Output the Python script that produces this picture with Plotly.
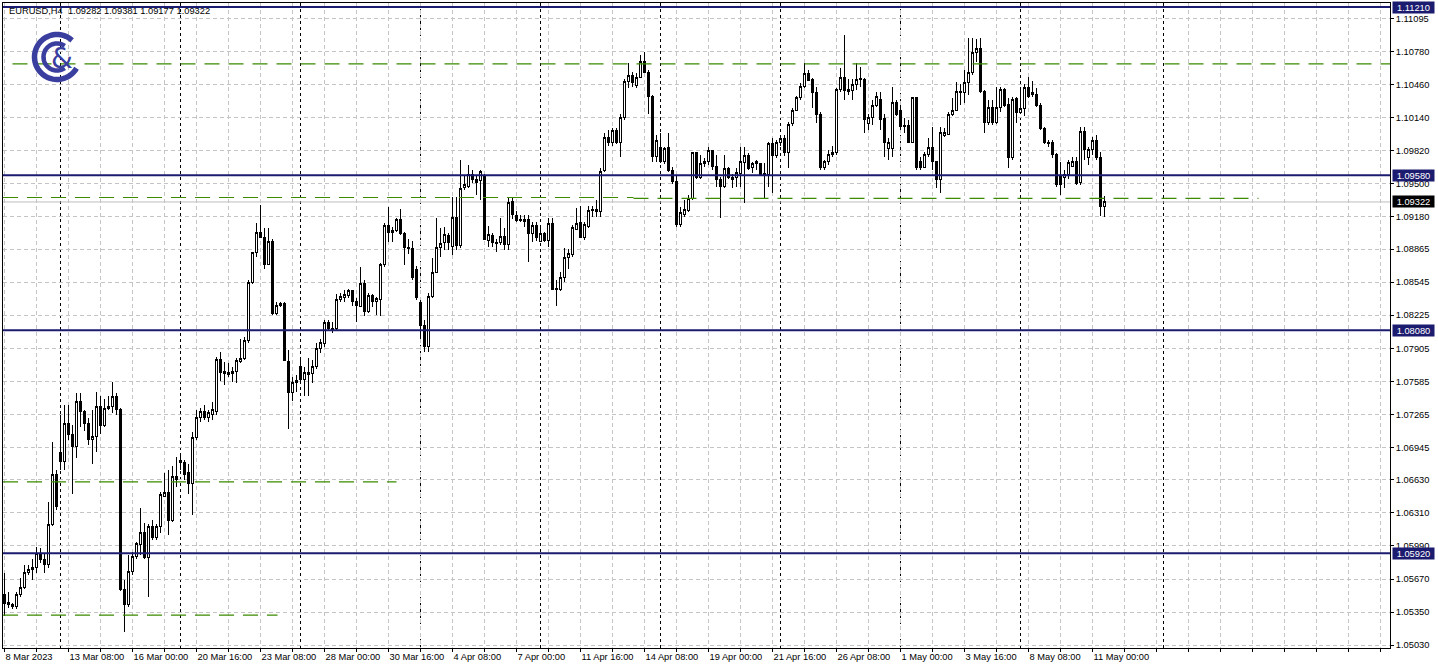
import math
import plotly.graph_objects as go

# ---------------- data (EURUSD, H4) ----------------
bar_index = list(range(276))

opens = [1.0552,1.0544,1.0542,1.0540,1.0552,1.0559,1.0573,1.0576,1.0578,1.0592,
1.0586,1.0581,1.0620,1.0668,1.0690,1.0681,1.0718,1.0707,1.0695,1.0739,
1.0729,1.0718,1.0702,1.0705,1.0734,1.0716,1.0732,1.0734,1.0744,1.0731,
1.0557,1.0542,1.0574,1.0589,1.0600,1.0612,1.0588,1.0618,1.0607,1.0618,
1.0647,1.0651,1.0624,1.0666,1.0682,1.0680,1.0670,1.0660,1.0704,1.0723,
1.0729,1.0723,1.0726,1.0729,1.0780,1.0766,1.0767,1.0766,1.0768,1.0778,
1.0781,1.0798,1.0854,1.0883,1.0903,1.0898,1.0872,1.0894,1.0824,1.0832,
1.0834,1.0778,1.0748,1.0757,1.0773,1.0760,1.0767,1.0766,1.0773,1.0790,
1.0795,1.0815,1.0810,1.0810,1.0838,1.0840,1.0842,1.0846,1.0836,1.0831,
1.0853,1.0826,1.0842,1.0836,1.0838,1.0872,1.0909,1.0903,1.0905,1.0915,
1.0902,1.0888,1.0887,1.0867,1.0835,1.0813,1.0792,1.0841,1.0864,1.0888,
1.0893,1.0900,1.0889,1.0917,1.0890,1.0946,1.0947,1.0959,1.0954,1.0953,
1.0958,1.0895,1.0900,1.0893,1.0893,1.0899,1.0891,1.0933,1.0919,1.0915,
1.0915,1.0915,1.0902,1.0909,1.0894,1.0902,1.0895,1.0911,1.0848,1.0847,
1.0859,1.0878,1.0881,1.0906,1.0912,1.0898,1.0908,1.0924,1.0925,1.0923,
1.0963,1.0995,1.0990,1.1001,1.0990,1.1014,1.1049,1.1055,1.1045,1.1053,
1.1068,1.1058,1.1034,1.0976,1.0985,1.0971,1.0985,1.0963,1.0952,1.0910,
1.0920,1.0924,1.0936,1.0980,1.0956,1.0969,1.0971,1.0982,1.0967,1.0954,
1.0947,1.0965,1.0954,1.0956,1.0960,1.0970,1.0977,1.0966,1.0969,1.0969,
1.0958,1.0959,1.0989,1.0977,1.0990,1.0994,1.0980,1.1008,1.1021,1.1033,
1.1044,1.1057,1.1051,1.1038,1.1017,1.0966,1.0971,1.0978,1.0980,1.1041,
1.1053,1.1039,1.1040,1.1046,1.1051,1.1051,1.1008,1.1014,1.1026,1.1031,
1.1013,1.0984,1.0984,1.1029,1.1021,1.1006,1.1006,1.0990,1.1033,1.0971,
1.0966,1.0978,1.0985,1.0971,1.0954,1.0997,1.0998,1.1017,1.1021,1.1039,
1.1038,1.1048,1.1058,1.1077,1.1081,1.1039,1.1009,1.1024,1.1009,1.1024,
1.1041,1.1027,1.0975,1.1032,1.1019,1.1023,1.1043,1.1038,1.1036,1.1026,
1.1003,1.0989,1.0990,1.0978,1.0957,1.0956,1.0959,1.0967,1.0971,1.0951,
1.1000,1.0975,1.0983,1.0992,1.0975,1.09282]

highs = [1.0573,1.0554,1.0544,1.0554,1.0568,1.0581,1.0581,1.0586,1.0598,1.0597,
1.0592,1.0642,1.0700,1.0673,1.0726,1.0736,1.0736,1.0716,1.0747,1.0747,
1.0731,1.0723,1.0731,1.0748,1.0744,1.0741,1.0744,1.0758,1.0747,1.0733,
1.0566,1.0590,1.0593,1.0603,1.0636,1.0621,1.0620,1.0624,1.0620,1.0651,
1.0670,1.0673,1.0676,1.0685,1.0689,1.0682,1.0678,1.0709,1.0731,1.0733,
1.0736,1.0731,1.0738,1.0782,1.0787,1.0777,1.0776,1.0772,1.0781,1.0799,
1.0801,1.0857,1.0884,1.0912,1.0929,1.0907,1.0907,1.0896,1.0835,1.0835,
1.0835,1.0789,1.0763,1.0765,1.0779,1.0772,1.0781,1.0779,1.0796,1.0799,
1.0818,1.0818,1.0816,1.0843,1.0844,1.0847,1.0848,1.0847,1.0839,1.0869,
1.0857,1.0844,1.0843,1.0840,1.0873,1.0912,1.0927,1.0908,1.0917,1.0925,
1.0903,1.0896,1.0894,1.0870,1.0837,1.0818,1.0844,1.0878,1.0917,1.0907,
1.0908,1.0902,1.0937,1.0937,1.0973,1.0957,1.0968,1.0963,1.0957,1.0963,
1.0959,1.0909,1.0902,1.0896,1.0917,1.0907,1.0937,1.0936,1.0923,1.0920,
1.0920,1.0920,1.0913,1.0913,1.0908,1.0903,1.0917,1.0917,1.0857,1.0864,
1.0888,1.0887,1.0910,1.0926,1.0928,1.0913,1.0928,1.0928,1.0934,1.0965,
1.0999,1.1002,1.1004,1.1004,1.1017,1.1051,1.1067,1.1058,1.1057,1.1075,
1.1077,1.1060,1.1036,1.0997,1.0999,1.0985,1.0999,1.0966,1.0957,1.0927,
1.0934,1.0939,1.0981,1.0981,1.0978,1.0975,1.0985,1.0983,1.0978,1.0956,
1.0978,1.0966,1.0959,1.0965,1.0985,1.0985,1.0980,1.0971,1.0973,1.0970,
1.0970,1.0990,1.0994,1.0992,1.0995,1.0997,1.1010,1.1023,1.1035,1.1047,
1.1067,1.1060,1.1052,1.1044,1.1019,1.0973,1.0983,1.0986,1.1043,1.1062,
1.1094,1.1051,1.1051,1.1067,1.1063,1.1052,1.1017,1.1031,1.1039,1.1039,
1.1017,1.0994,1.1044,1.1031,1.1023,1.1014,1.1012,1.1034,1.1034,1.0976,
1.0981,1.0994,1.1005,1.0972,1.1005,1.1004,1.1019,1.1033,1.1048,1.1046,
1.1060,1.1091,1.1091,1.1090,1.1091,1.1041,1.1031,1.1031,1.1044,1.1044,
1.1043,1.1033,1.1034,1.1034,1.1043,1.1046,1.1053,1.1049,1.1043,1.1028,
1.1005,1.0992,1.0992,1.0980,1.0971,1.0963,1.0973,1.0976,1.0976,1.1005,
1.1005,1.0985,1.0995,1.0997,1.0981,1.09381]

lows = [1.0531,1.0539,1.0538,1.0538,1.0550,1.0557,1.0571,1.0566,1.0573,1.0583,
1.0573,1.0578,1.0618,1.0634,1.0673,1.0673,1.0702,1.0649,1.0684,1.0714,
1.0710,1.0697,1.0678,1.0690,1.0707,1.0714,1.0731,1.0728,1.0726,1.0555,
1.0516,1.0540,1.0571,1.0586,1.0590,1.0586,1.0550,1.0605,1.0605,1.0612,
1.0646,1.0610,1.0622,1.0656,1.0673,1.0663,1.0649,1.0629,1.0702,1.0719,
1.0721,1.0719,1.0721,1.0726,1.0759,1.0755,1.0763,1.0758,1.0757,1.0776,
1.0779,1.0796,1.0853,1.0879,1.0897,1.0867,1.0871,1.0823,1.0823,1.0830,
1.0778,1.0712,1.0739,1.0748,1.0757,1.0744,1.0744,1.0757,1.0770,1.0786,
1.0792,1.0808,1.0805,1.0808,1.0835,1.0835,1.0839,1.0831,1.0816,1.0830,
1.0822,1.0825,1.0830,1.0823,1.0822,1.0869,1.0893,1.0893,1.0903,1.0900,
1.0871,1.0882,1.0857,1.0837,1.0799,1.0787,1.0787,1.0839,1.0863,1.0879,
1.0886,1.0886,1.0881,1.0886,1.0888,1.0944,1.0946,1.0951,1.0939,1.0934,
1.0895,1.0889,1.0889,1.0884,1.0891,1.0886,1.0886,1.0916,1.0913,1.0913,
1.0908,1.0874,1.0893,1.0894,1.0893,1.0893,1.0889,1.0847,1.0831,1.0846,
1.0855,1.0867,1.0879,1.0905,1.0897,1.0895,1.0907,1.0918,1.0918,1.0918,
1.0961,1.0986,1.0986,1.0988,1.0976,1.1012,1.1043,1.1044,1.1043,1.1052,
1.1057,1.1017,1.0971,1.0971,1.0970,1.0969,1.0961,1.0950,1.0908,1.0908,
1.0918,1.0922,1.0934,1.0954,1.0954,1.0966,1.0968,1.0963,1.0947,1.0917,
1.0946,1.0954,1.0946,1.0947,1.0947,1.0931,1.0963,1.0960,1.0963,1.0957,
1.0936,1.0947,1.0941,1.0975,1.0986,1.0977,1.0965,1.1006,1.1020,1.1031,
1.1043,1.1049,1.1023,1.1009,1.0963,1.0963,1.0968,1.0976,1.0978,1.1039,
1.1031,1.1036,1.1031,1.1041,1.1044,1.0999,1.1002,1.1007,1.1024,1.1002,
1.0976,1.0973,1.0976,1.1015,1.1002,1.0999,1.0989,1.0990,1.0963,1.0963,
1.0965,1.0976,1.0963,1.0946,1.0941,1.0995,1.0997,1.1015,1.1020,1.1026,
1.1028,1.1036,1.1055,1.1068,1.1038,1.0999,1.1007,1.1007,1.1008,1.1019,
1.1024,1.0965,1.0973,1.1009,1.1017,1.1015,1.1033,1.1034,1.1024,1.1002,
1.0988,1.0985,1.0975,1.0947,1.0939,1.0946,1.0954,1.0966,1.0949,1.0949,
1.0973,1.0968,1.0978,1.0973,1.0919,1.09177]

closes = [1.0543,1.0542,1.0540,1.0552,1.0559,1.0573,1.0576,1.0578,1.0592,1.0586,
1.0581,1.0620,1.0668,1.0637,1.0681,1.0718,1.0707,1.0695,1.0739,1.0729,
1.0718,1.0702,1.0705,1.0734,1.0716,1.0732,1.0734,1.0744,1.0731,1.0557,
1.0542,1.0574,1.0589,1.0601,1.0612,1.0588,1.0618,1.0607,1.0618,1.0649,
1.0651,1.0624,1.0666,1.0663,1.0680,1.0668,1.0660,1.0704,1.0723,1.0729,
1.0723,1.0728,1.0731,1.0780,1.0767,1.0768,1.0765,1.0768,1.0779,1.0781,
1.0798,1.0854,1.0883,1.0903,1.0898,1.0872,1.0894,1.0824,1.0832,1.0834,
1.0779,1.0748,1.0757,1.0759,1.0760,1.0767,1.0765,1.0773,1.0790,1.0796,
1.0815,1.0810,1.0809,1.0838,1.0841,1.0843,1.0846,1.0836,1.0832,1.0853,
1.0826,1.0842,1.0836,1.0839,1.0872,1.0909,1.0903,1.0905,1.0915,1.0902,
1.0888,1.0887,1.0859,1.0840,1.0813,1.0792,1.0841,1.0864,1.0888,1.0892,
1.0901,1.0893,1.0917,1.0890,1.0945,1.0949,1.0959,1.0954,1.0951,1.0962,
1.0896,1.0901,1.0893,1.0892,1.0899,1.0891,1.0932,1.0920,1.0914,1.0914,
1.0913,1.0902,1.0909,1.0898,1.0902,1.0895,1.0911,1.0847,1.0847,1.0859,
1.0878,1.0882,1.0907,1.0911,1.0898,1.0910,1.0924,1.0925,1.0923,1.0962,
1.0995,1.0990,1.1001,1.0990,1.1014,1.1049,1.1055,1.1048,1.1053,1.1068,
1.1058,1.1034,1.0976,1.0992,1.0971,1.0984,1.0963,1.0952,1.0910,1.0922,
1.0925,1.0936,1.0980,1.0956,1.0969,1.0971,1.0982,1.0967,1.0954,1.0947,
1.0965,1.0956,1.0956,1.0961,1.0971,1.0977,1.0965,1.0969,1.0971,1.0958,
1.0960,1.0989,1.0977,1.0990,1.0994,1.0980,1.1007,1.1021,1.1033,1.1044,
1.1057,1.1050,1.1038,1.1017,1.0966,1.0971,1.0978,1.0980,1.1041,1.1053,
1.1040,1.1041,1.1046,1.1051,1.1052,1.1012,1.1014,1.1026,1.1034,1.1012,
1.0990,1.0990,1.1029,1.1017,1.1005,1.1005,1.0990,1.1033,1.0966,1.0966,
1.0978,1.0985,1.0971,1.0954,1.0999,1.0999,1.1017,1.1021,1.1039,1.1038,
1.1048,1.1058,1.1077,1.1081,1.1039,1.1009,1.1024,1.1009,1.1024,1.1041,
1.1026,1.0975,1.1031,1.1019,1.1023,1.1043,1.1034,1.1036,1.1026,1.1003,
1.0990,1.0990,1.0978,1.0949,1.0949,1.0959,1.0970,1.0971,1.0950,1.1000,
1.0983,1.0983,1.0992,1.0975,1.0928,1.09322]

# time axis labels (bar index -> label)
label_bars = [0, 16, 32, 48, 64, 80, 96, 112, 128, 144, 160, 176, 192, 208, 224, 240, 256, 272]
label_texts = ["8 Mar 2023", "13 Mar 08:00", "16 Mar 00:00", "20 Mar 16:00", "23 Mar 08:00",
               "28 Mar 00:00", "30 Mar 16:00", "4 Apr 08:00", "7 Apr 00:00", "11 Apr 16:00",
               "14 Apr 08:00", "19 Apr 00:00", "21 Apr 16:00", "26 Apr 08:00", "1 May 00:00",
               "3 May 16:00", "8 May 08:00", "11 May 00:00"]
grid_step_bars = 8
last_grid_bar = 344

# period separators (bar index of week start) and a future marker
separator_bars = [14, 44, 74, 104, 134, 164, 194, 224, 254, 289.75]

# price axis
price_ticks = [1.11095, 1.10780, 1.10460, 1.10140, 1.09820, 1.09500, 1.09180, 1.08865,
               1.08545, 1.08225, 1.07905, 1.07585, 1.07265, 1.06945, 1.06630, 1.06310,
               1.05990, 1.05670, 1.05350, 1.05030]

# horizontal levels
level_prices = [1.11210, 1.09580, 1.08080, 1.05920]
current_price = 1.09322
green_prices = [1.10660, 1.09365, 1.09357, 1.06610, 1.05320]
green_from = [2, -0.375, 157.25, -0.375, -0.375]
green_to = [346.375, 157.25, 313.5, 98, 68.25]

header_text = "EURUSD,H4  1.09282 1.09381 1.09177 1.09322"

# ---------------- styling ----------------
W, H = 1438, 671
ML, MR, MT, MB = 3, 48, 3, 23
X_RANGE = [-0.375, 346.375]
Y_RANGE = [1.05002, 1.11249]
FONT = "Liberation Sans, Arial, sans-serif"
FS = 9.3
NAVY = "#1b1b6f"
GREEN = "#3b8a00"
GRID = "#c4c4c4"
LOGO = "#3a3e9e"

fig = go.Figure()
fig.add_trace(go.Candlestick(
    x=bar_index, open=opens, high=highs, low=lows, close=closes,
    increasing=dict(line=dict(color="black", width=1), fillcolor="white"),
    decreasing=dict(line=dict(color="black", width=1), fillcolor="black"),
    whiskerwidth=0, showlegend=False, hoverinfo="skip",
))

shapes = []
for b in separator_bars:
    shapes.append(dict(type="line", xref="x", yref="paper", x0=b, x1=b, y0=0, y1=1,
                       line=dict(color="black", width=1, dash="3px,3px"), layer="between"))
# current price line
shapes.append(dict(type="line", xref="paper", yref="y", x0=0, x1=1, y0=current_price, y1=current_price,
                   line=dict(color="#bdbdbd", width=1), layer="between"))
for p, a, b in zip(green_prices, green_from, green_to):
    shapes.append(dict(type="line", xref="x", yref="y", x0=a, x1=b, y0=p, y1=p,
                       line=dict(color=GREEN, width=1.2, dash="15px,9px"), layer="above"))
for p in level_prices:
    shapes.append(dict(type="line", xref="paper", yref="y", x0=0, x1=1, y0=p, y1=p,
                       line=dict(color=NAVY, width=2), layer="above"))

# logo (two open rings)
def arc_path(r, a0, a1, n=60):
    pts = []
    for k in range(n + 1):
        t = math.radians(a0 + (a1 - a0) * k / n)
        pts.append((r * math.cos(t), r * math.sin(t)))
    return "M " + " L ".join(f"{x:.2f},{y:.2f}" for x, y in pts)

logo_cx = (57 - ML) / (W - ML - MR)
logo_cy = (H - MB - 57) / (H - MT - MB)
for r, a0, a1, w in [(22.5, 48, 330, 5.5), (13.5, 55, 305, 4.5)]:
    shapes.append(dict(type="path", xref="paper", yref="paper", xsizemode="pixel", ysizemode="pixel",
                       xanchor=logo_cx, yanchor=logo_cy, path=arc_path(r, a0, a1),
                       line=dict(color=LOGO, width=w), layer="above"))

annotations = []
annotations.append(dict(xref="paper", yref="paper", x=logo_cx, y=logo_cy, xshift=5, yshift=-2,
                        xanchor="center", yanchor="middle",
                        text="&amp;", showarrow=False,
                        font=dict(family="DejaVu Sans", size=28, color=LOGO)))
annotations.append(dict(xref="paper", yref="paper", x=(7 - ML) / (W - ML - MR),
                        y=(H - MB - 11) / (H - MT - MB), xanchor="left", yanchor="middle",
                        text=header_text, showarrow=False,
                        font=dict(family=FONT, size=FS, color="black")))
for p in level_prices:
    annotations.append(dict(xref="paper", yref="y", x=1, y=p, xanchor="left", xshift=2,
                            text=f"{p:.5f}", showarrow=False, bgcolor=NAVY, borderpad=0,
                            width=41, height=11, font=dict(family=FONT, size=FS, color="white")))
annotations.append(dict(xref="paper", yref="y", x=1, y=current_price, xanchor="left", xshift=2,
                        text=f"{current_price:.5f}", showarrow=False, bgcolor="black", borderpad=0,
                        width=41, height=11, font=dict(family=FONT, size=FS, color="white")))

grid_vals = list(range(0, last_grid_bar + 1, grid_step_bars))
lab = dict(zip(label_bars, label_texts))
grid_text = [lab.get(v, "") for v in grid_vals]

fig.update_layout(
    width=W, height=H, autosize=False,
    margin=dict(l=ML, r=MR, t=MT, b=MB, pad=0),
    paper_bgcolor="white", plot_bgcolor="white",
    boxgap=0.5,
    font=dict(family=FONT, size=FS, color="black"),
    shapes=shapes, annotations=annotations, showlegend=False,
    xaxis=dict(range=X_RANGE, tickmode="array", tickvals=grid_vals, ticktext=grid_text,
               ticklabelposition="outside right", tickangle=0, automargin=False,
               showgrid=True, gridcolor=GRID, griddash="4px,3px",
               gridwidth=1, showline=True, linecolor="black", linewidth=1, mirror=True,
               ticks="outside", ticklen=3, tickcolor="black", zeroline=False,
               rangeslider=dict(visible=False), fixedrange=True,
               tickfont=dict(family=FONT, size=FS, color="black")),
    yaxis=dict(range=Y_RANGE, side="right", tickmode="array", tickvals=price_ticks,
               ticktext=[f"{v:.5f}" for v in price_ticks], showgrid=True, gridcolor=GRID,
               griddash="4px,3px", gridwidth=1, showline=True, linecolor="black", linewidth=1,
               mirror=True, ticks="outside", ticklen=3, tickcolor="black", zeroline=False,
               automargin=False, fixedrange=True,
               tickfont=dict(family=FONT, size=FS, color="black")),
)

crisp_js = (
    "document.body.style.margin='0';document.body.style.overflow='hidden';"
    "var s=document.createElement('style');"
    "s.innerHTML='.trace.boxes path{shape-rendering:crispEdges;}';"
    "document.head.appendChild(s);"
)
fig.write_html("out.html", config={"displayModeBar": False}, post_script=crisp_js)
